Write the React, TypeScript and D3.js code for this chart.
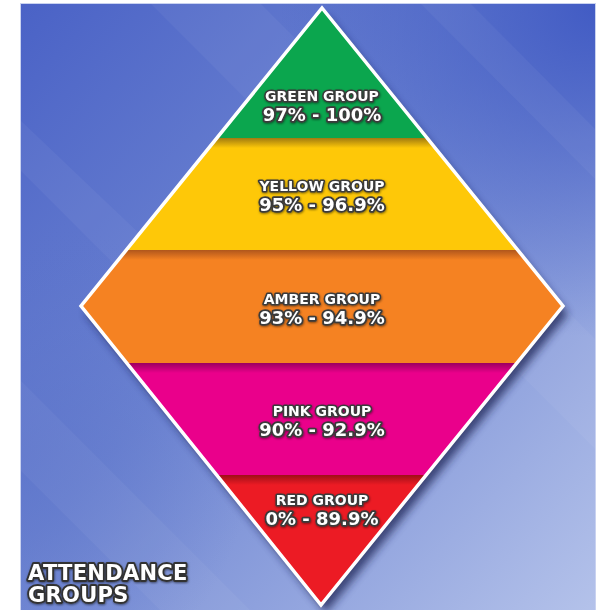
import React from "react";
import * as d3 from "d3";

// ---- data ----
const groupNames = ["GREEN GROUP", "YELLOW GROUP", "AMBER GROUP", "PINK GROUP", "RED GROUP"];
const groupRanges = ["97% - 100%", "95% - 96.9%", "93% - 94.9%", "90% - 92.9%", "0% - 89.9%"];
const groupColours = ["#0ba64e", "#fec808", "#f58222", "#ea008b", "#ec1b24"];
const groupShades = ["#0ba64e", "#a07a10", "#b0561c", "#9a0060", "#9e0f18"];
const titleLines = ["ATTENDANCE", "GROUPS"];

const W = 603;
const H = 610;

export default function App() {
  // layout scales
  const bandY = d3.scaleLinear().domain([0, 1, 2, 3, 4, 5]).range([8, 138, 250, 363, 475, 605]);
  const cx = 322;
  const halfW = 241;
  const midY = 306;
  const diamondPts: [number, number][] = [
    [cx, bandY(0)],
    [cx + halfW, midY],
    [cx - 1, bandY(5)],
    [cx - halfW, midY],
  ];
  const line = d3.line().curve(d3.curveLinearClosed);
  const diamondPath = line(diamondPts) || "";

  const labelMid = (i: number) => {
    const t = bandY(i);
    const b = bandY(i + 1);
    if (i === 0) return b - 32;
    if (i === groupNames.length - 1) return t + 35;
    return (t + b) / 2 + 2;
  };

  const textStyle: React.CSSProperties = {
    fontFamily: "'DejaVu Sans', sans-serif",
    fontWeight: 700,
    paintOrder: "stroke",
  };

  // light diagonal streaks for the background
  const streaks: [number, number][][] = [
    [[150, 3], [260, 3], [596, 340], [596, 450]],
    [[20, 380], [20, 470], [160, 610], [250, 610]],
    [[420, 3], [470, 3], [596, 130], [596, 180]],
    [[20, 120], [20, 170], [200, 350], [230, 320]],
  ];

  return (
    <div style={{ position: "absolute", left: 0, top: 0 }}>
      <svg width={W} height={H} viewBox={`0 0 ${W} ${H}`} style={{ display: "block" }}>
        <defs>
          <linearGradient id="bg" x1="0" y1="0" x2="1" y2="1">
            <stop offset="0" stopColor="#4a62c6" />
            <stop offset="0.45" stopColor="#6e85d2" />
            <stop offset="1" stopColor="#b4c2ea" />
          </linearGradient>
          <radialGradient id="bgTR" cx="1" cy="0" r="0.55">
            <stop offset="0" stopColor="#3f59c3" stopOpacity="0.95" />
            <stop offset="1" stopColor="#3f59c3" stopOpacity="0" />
          </radialGradient>
          <radialGradient id="bgBL" cx="0" cy="0.75" r="0.4">
            <stop offset="0" stopColor="#5a72c9" stopOpacity="0.6" />
            <stop offset="1" stopColor="#5a72c9" stopOpacity="0" />
          </radialGradient>
          <clipPath id="diamondClip">
            <path d={diamondPath} />
          </clipPath>
          <filter id="shadow" x="-20%" y="-20%" width="140%" height="140%">
            <feGaussianBlur stdDeviation="4" />
          </filter>
          <filter id="txtShadow" x="-10%" y="-30%" width="120%" height="160%">
            <feDropShadow dx="0.5" dy="1" stdDeviation="0.8" floodColor="#000" floodOpacity="0.5" />
          </filter>
          {groupColours.map((c, i) => (
            <linearGradient key={i} id={`shade${i}`} x1="0" y1="0" x2="0" y2="1">
              <stop offset="0" stopColor={groupShades[i]} />
              <stop offset="1" stopColor={c} />
            </linearGradient>
          ))}
        </defs>

        {/* background panel */}
        <rect x={20} y={3} width={576} height={H - 3} fill="url(#bg)" />
        <rect x={20} y={3} width={576} height={H - 3} fill="url(#bgTR)" />
        <rect x={20} y={3} width={576} height={H - 3} fill="url(#bgBL)" />
        {streaks.map((s, i) => (
          <path key={i} d={line(s) || ""} fill="#ffffff" opacity={0.045} />
        ))}
        <rect x={20.5} y={3.5} width={575} height={H} fill="none" stroke="#c9d2f0" strokeWidth={1} />

        {/* diamond shadow */}
        <path d={diamondPath} transform="translate(5,8)" fill="#1b2452" opacity={0.75} filter="url(#shadow)" />

        {/* bands */}
        <g clipPath="url(#diamondClip)">
          {groupColours.map((c, i) => (
            <g key={i}>
              <rect x={cx - halfW - 5} y={bandY(i)} width={2 * halfW + 10} height={bandY(i + 1) - bandY(i)} fill={c} />
              {i > 0 && (
                <rect x={cx - halfW - 5} y={bandY(i)} width={2 * halfW + 10} height={10} fill={`url(#shade${i})`} />
              )}
            </g>
          ))}
        </g>
        <path d={diamondPath} fill="none" stroke="#ffffff" strokeWidth={3.5} strokeLinejoin="miter" />

        {/* labels */}
        {groupNames.map((name, i) => {
          const m = labelMid(i);
          return (
            <g key={name} filter="url(#txtShadow)">
              <text
                x={cx}
                y={m - 5}
                textAnchor="middle"
                fontSize={14}
                fill="#ffffff"
                stroke="#3a3a3a"
                strokeWidth={3.2}
                strokeLinejoin="round"
                style={textStyle}
              >
                {name}
              </text>
              <text
                x={cx}
                y={m + 15}
                textAnchor="middle"
                fontSize={18}
                fill="#ffffff"
                stroke="#3a3a3a"
                strokeWidth={3.6}
                strokeLinejoin="round"
                style={textStyle}
              >
                {groupRanges[i]}
              </text>
            </g>
          );
        })}

        {/* title */}
        <g filter="url(#txtShadow)">
          {titleLines.map((t, i) => (
            <text
              key={t}
              x={28}
              y={580 + i * 22}
              fontSize={21}
              letterSpacing={0.3}
              fill="#ffffff"
              stroke="#333333"
              strokeWidth={3.8}
              strokeLinejoin="round"
              style={textStyle}
            >
              {t}
            </text>
          ))}
        </g>
      </svg>
    </div>
  );
}
